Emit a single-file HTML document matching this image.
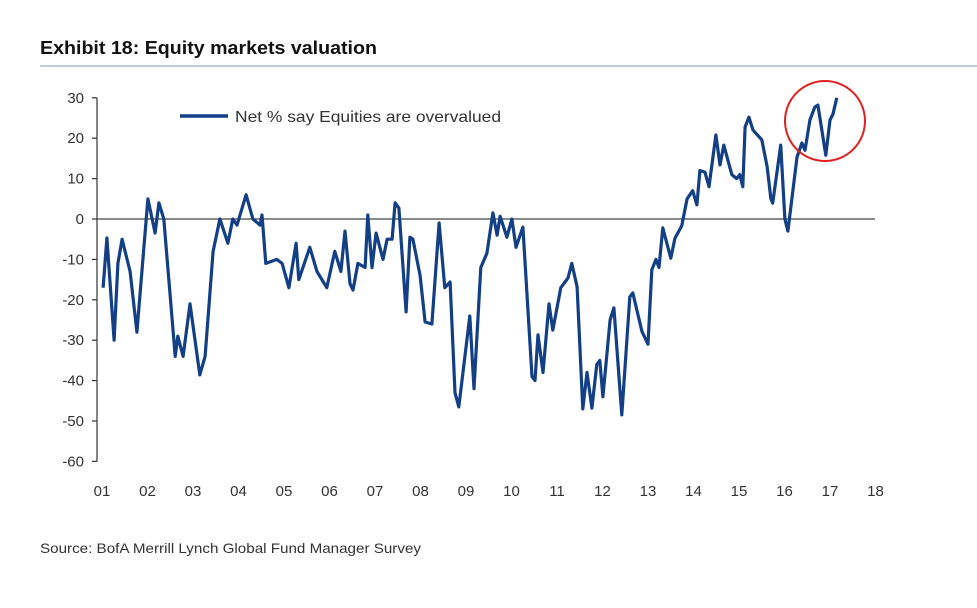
<!DOCTYPE html>
<html><head><meta charset="utf-8"><style>
body{margin:0;background:#fff;width:977px;height:608px;overflow:hidden;font-family:"Liberation Sans",Arial,sans-serif}
</style></head><body>
<svg width="977" height="608" style="position:absolute;left:0;top:0">
<text x="40" y="54" font-size="18" font-weight="bold" fill="#111" textLength="337" lengthAdjust="spacingAndGlyphs" font-family="Liberation Sans">Exhibit 18: Equity markets valuation</text>
<line x1="40" y1="66" x2="977" y2="66" stroke="#9fb0c8" stroke-width="1.2"/>
<g id="axes"></g>
<g id="plot"></g>
<line x1="180" y1="116" x2="228" y2="116" stroke="#123f85" stroke-width="3.5"/>
<text x="235" y="122" font-size="16" fill="#333" textLength="266" lengthAdjust="spacingAndGlyphs" font-family="Liberation Sans">Net % say Equities are overvalued</text>
<ellipse cx="825" cy="121" rx="40" ry="40" fill="none" stroke="#e02020" stroke-width="2"/>
<text x="40" y="553" font-size="14" fill="#333" textLength="381" lengthAdjust="spacingAndGlyphs" font-family="Liberation Sans">Source: BofA Merrill Lynch Global Fund Manager Survey</text>
</svg>
<script>
const months=[0.3,1.3,3.2,4.2,5.3,7.4,9.2,12.1,14.0,15.0,16.3,19.3,20.0,21.4,23.2,25.8,27.2,29.3,31.1,33.2,34.5,35.6,38.0,39.8,41.7,42.2,43.2,46.1,47.5,49.3,51.2,51.9,54.8,56.7,59.3,61.4,63.0,64.1,65.4,66.2,67.5,69.4,70.1,71.2,72.3,74.1,75.2,76.5,77.3,78.3,80.2,81.2,82.0,83.9,85.2,87.0,88.9,90.4,91.8,93.1,94.1,97.0,98.1,99.9,101.5,103.1,104.2,105.0,106.8,108.1,109.2,111.0,113.4,114.2,115.0,116.3,117.9,118.9,121.0,122.9,123.9,125.3,126.8,127.9,129.2,130.5,131.3,132.1,134.0,135.0,137.1,139.2,140.0,142.4,144.0,145.0,146.1,146.9,147.9,150.0,151.1,152.9,154.3,155.8,156.9,157.7,159.0,160.1,161.9,163.0,164.0,166.1,167.4,168.2,169.0,169.6,170.6,171.7,174.0,175.4,176.4,176.9,179.0,180.1,180.9,183.3,184.6,185.4,186.7,188.0,188.8,190.9,192.0,192.8,193.8];
const values=[-17,-4.7,-30,-11,-5,-13,-28,5,-3.5,4,0,-34,-29,-34,-21,-38.6,-34,-8,0,-6,0,-1.5,6,0,-1.5,1,-11,-10,-11,-17,-6,-15,-7,-13,-17,-8,-13,-3,-16,-17.6,-11,-12,1,-12,-3.5,-10,-5,-5,4,2.7,-23,-4.5,-5,-14,-25.5,-26,-1,-17,-15.6,-43,-46.5,-24,-42,-12,-8.5,1.5,-4,0.7,-4.5,0,-7,-2,-39,-40,-28.7,-38,-21,-27.5,-17,-14.6,-11,-16.8,-47,-38,-46.8,-36,-35,-44,-25,-22,-48.5,-19.3,-18.3,-27.8,-31,-12.6,-10,-12,-2.2,-9.7,-4.8,-1.7,5,7,3.5,12,11.6,8,20.8,13.4,18.3,11,10,11,8,22.8,25.2,22,19.6,13,5,3.9,18.3,0,-3,15.3,18.8,17,24.5,27.7,28.2,15.8,24.5,26,30];
const yTicks=[30,20,10,0,-10,-20,-30,-40,-50,-60];
const xTicks=["01","02","03","04","05","06","07","08","09","10","11","12","13","14","15","16","17","18"];
const NS="http://www.w3.org/2000/svg";
function xs(m){return 102+m*45.5/12;}
function ys(v){return 219-v*4.04;}
const axes=document.getElementById('axes'),plot=document.getElementById('plot');
function mk(tag,attrs,parent){const e=document.createElementNS(NS,tag);for(const k in attrs)e.setAttribute(k,attrs[k]);parent.appendChild(e);return e;}
let ax=mk('line',{x1:97,y1:ys(30),x2:97,y2:ys(-60),stroke:'#333','stroke-width':1.2},axes);


yTicks.forEach(v=>{
 let t=mk('line',{x1:92,y1:ys(v),x2:97,y2:ys(v),stroke:'#333','stroke-width':1.2},axes);
 
 
 let l=mk('text',{x:84,y:ys(v)+5,'font-size':15,'text-anchor':'end',fill:'#333','font-family':'Liberation Sans'},axes);
 l.textContent=v;
 
 
});
xTicks.forEach((s,i)=>{
 let l=mk('text',{x:xs(i*12),y:496,'font-size':15,'text-anchor':'middle',fill:'#333','font-family':'Liberation Sans'},axes);
 l.textContent=s;
 
 
});
let z=mk('line',{x1:97,y1:ys(0),x2:875,y2:ys(0),stroke:'#444','stroke-width':1.2},axes);


let d=months.map((m,i)=>(i?'L':'M')+xs(m).toFixed(1)+' '+ys(values[i]).toFixed(1)).join(' ');
let p=mk('path',{d:d,fill:'none',stroke:'#123f85','stroke-width':3.2,'stroke-linejoin':'round'},plot);


</script>
</body></html>
